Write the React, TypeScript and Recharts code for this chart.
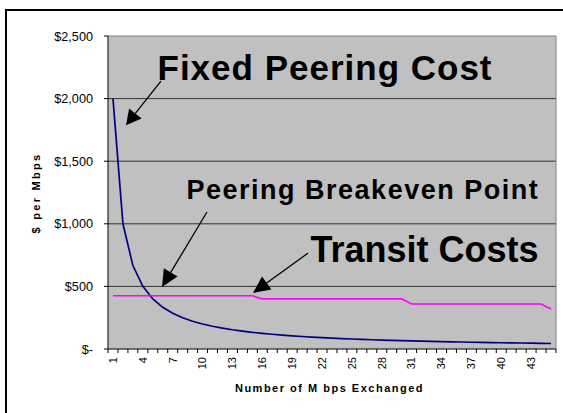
import React from 'react';
import {
  LineChart,
  Line,
  XAxis,
  YAxis,
  CartesianGrid,
  ReferenceLine,
  ReferenceDot,
  Label,
} from 'recharts';

// ---- data ----
const categories = [
  1, 2, 3, 4, 5, 6, 7, 8, 9, 10, 11, 12, 13, 14, 15, 16, 17, 18, 19, 20, 21, 22, 23,
  24, 25, 26, 27, 28, 29, 30, 31, 32, 33, 34, 35, 36, 37, 38, 39, 40, 41, 42, 43, 44, 45,
];
const fixedPeeringCost = [
  2000, 1000, 667, 500, 400, 333, 286, 250, 222, 200, 182, 167, 154, 143, 133, 125, 118,
  111, 105, 100, 95, 91, 87, 83, 80, 77, 74, 71, 69, 67, 65, 63, 61, 59, 57, 56, 54, 53,
  51, 50, 49, 48, 47, 45, 44,
];
const transitCosts = [
  425, 425, 425, 425, 425, 425, 425, 425, 425, 425, 425, 425, 425, 425, 425,
  400, 400, 400, 400, 400, 400, 400, 400, 400, 400, 400, 400, 400, 400, 400,
  360, 360, 360, 360, 360, 360, 360, 360, 360, 360, 360, 360, 360, 360, 320,
];
const xTickLabels = [1, 4, 7, 10, 13, 16, 19, 22, 25, 28, 31, 34, 37, 40, 43];
const yTicks = [0, 500, 1000, 1500, 2000, 2500];
const yTickLabels = ['$-', '$500', '$1,000', '$1,500', '$2,000', '$2,500'];
const gridValues = [500, 1000, 1500, 2000];

const data = categories.map((c, i) => ({
  x: c,
  fixed: fixedPeeringCost[i],
  transit: transitCosts[i],
}));

const boundaries = [categories[0] - 0.5, ...categories.map((c) => c + 0.5)];
const xTicks = [...boundaries, ...xTickLabels].sort((a, b) => a - b);

const FONT = '"Liberation Sans", Arial, Helvetica, sans-serif';

const XTick = (props: any) => {
  const { x, y, payload } = props;
  const v = payload.value;
  if (v % 1 !== 0) {
    return <line x1={x} y1={y} x2={x} y2={y + 4} stroke="#000" strokeWidth={1} />;
  }
  return (
    <text
      x={x}
      y={y + 8}
      transform={`rotate(-90 ${x} ${y + 8})`}
      textAnchor="end"
      dy="0.35em"
      fontSize={11}
      fontFamily={FONT}
      fill="#000"
    >
      {String(v)}
    </text>
  );
};

const makeArrow = (L: number, W: number) => (props: any) => {
  const { x1, y1, x2, y2 } = props;
  const dx = x2 - x1;
  const dy = y2 - y1;
  const len = Math.sqrt(dx * dx + dy * dy);
  const ux = dx / len;
  const uy = dy / len;
  const bx = x2 - ux * L;
  const by = y2 - uy * L;
  const nx = -uy;
  const ny = ux;
  return (
    <g>
      <line x1={x1} y1={y1} x2={bx} y2={by} stroke="#000" strokeWidth={1.3} />
      <polygon
        points={`${x2},${y2} ${bx + nx * W},${by + ny * W} ${bx - nx * W},${by - ny * W}`}
        fill="#000"
      />
    </g>
  );
};

const makeText = (text: string, size: number, spacing: number) => (props: any) => (
  <text
    x={props.cx}
    y={props.cy}
    textAnchor="middle"
    fontSize={size}
    fontWeight="bold"
    fontFamily={FONT}
    letterSpacing={spacing}
    fill="#000"
  >
    {text}
  </text>
);

export default function App() {
  return (
    <div
      style={{
        position: 'absolute',
        left: 0,
        top: 0,
        width: 563,
        height: 413,
        overflow: 'hidden',
        background: '#fff',
      }}
    >
      <div
        style={{
          position: 'absolute',
          left: 5,
          top: 9,
          width: 600,
          height: 450,
          borderLeft: '2px solid #000',
          borderTop: '2px solid #000',
        }}
      />
      <div style={{ position: 'absolute', left: 0, top: 0 }}>
        <LineChart
          width={563}
          height={413}
          data={data}
          margin={{ top: 36, right: 7, bottom: 0, left: 0 }}
        >
          <CartesianGrid
            horizontal={true}
            vertical={false}
            horizontalValues={gridValues}
            stroke="#333"
            strokeWidth={1}
            fill="#C0C0C0"
            fillOpacity={1}
          />
          <XAxis
            dataKey="x"
            type="number"
            domain={[boundaries[0], boundaries[boundaries.length - 1]]}
            ticks={xTicks}
            interval={0}
            allowDecimals={true}
            height={64}
            tickLine={false}
            tickSize={0}
            tickMargin={0}
            axisLine={{ stroke: '#000', strokeWidth: 1 }}
            tick={<XTick />}
          >
            <Label
              content={(p: any) => {
                const vb = p.viewBox;
                return (
                  <text
                    x={vb.x + vb.width / 2 - 2.5}
                    y={vb.y + 42.5}
                    textAnchor="middle"
                    fontSize={11}
                    fontWeight="bold"
                    fontFamily={FONT}
                    letterSpacing={1.5}
                    fill="#000"
                  >
                    Number of M bps Exchanged
                  </text>
                );
              }}
            />
          </XAxis>
          <YAxis
            type="number"
            domain={[0, 2500]}
            ticks={yTicks}
            interval={0}
            width={108}
            tickSize={4}
            tickMargin={11}
            tickFormatter={(v: number) => yTickLabels[yTicks.indexOf(v)]}
            axisLine={{ stroke: '#000', strokeWidth: 1 }}
            tickLine={{ stroke: '#000', strokeWidth: 1 }}
            tick={{ fontSize: 12.7, fill: '#000', fontFamily: FONT }}
          >
            <Label
              content={(p: any) => {
                const vb = p.viewBox;
                const cx = 39.5;
                const cy = vb.y + vb.height / 2 + 0.5;
                return (
                  <text
                    x={cx}
                    y={cy}
                    transform={`rotate(-90 ${cx} ${cy})`}
                    textAnchor="middle"
                    fontSize={11}
                    fontWeight="bold"
                    fontFamily={FONT}
                    letterSpacing={2.3}
                    fill="#000"
                  >
                    $ per Mbps
                  </text>
                );
              }}
            />
          </YAxis>
          <ReferenceLine y={2500} stroke="#808080" strokeWidth={1} />
          <ReferenceLine x={boundaries[boundaries.length - 1]} stroke="#808080" strokeWidth={1} />
          <Line
            type="linear"
            dataKey="fixed"
            stroke="#000080"
            strokeWidth={1.7}
            dot={false}
            isAnimationActive={false}
          />
          <Line
            type="linear"
            dataKey="transit"
            stroke="#FF00FF"
            strokeWidth={1.6}
            dot={false}
            isAnimationActive={false}
          />
          <ReferenceLine
            segment={[
              { x: 5.82, y: 2139 },
              { x: 2.31, y: 1788 },
            ]}
            shape={makeArrow(15, 8)}
          />
          <ReferenceLine
            segment={[
              { x: 10.44, y: 1094 },
              { x: 5.92, y: 495 },
            ]}
            shape={makeArrow(17, 8)}
          />
          <ReferenceLine
            segment={[
              { x: 20.59, y: 766 },
              { x: 15.06, y: 447 },
            ]}
            shape={makeArrow(17, 8)}
          />
          <ReferenceDot x={22.3} y={2147} r={0} shape={makeText('Fixed Peering Cost', 35, 1)} />
          <ReferenceDot
            x={26.1}
            y={1195}
            r={0}
            shape={makeText('Peering Breakeven Point', 27, 1.5)}
          />
          <ReferenceDot x={32.3} y={694} r={0} shape={makeText('Transit Costs', 36, 0)} />
        </LineChart>
      </div>
    </div>
  );
}
